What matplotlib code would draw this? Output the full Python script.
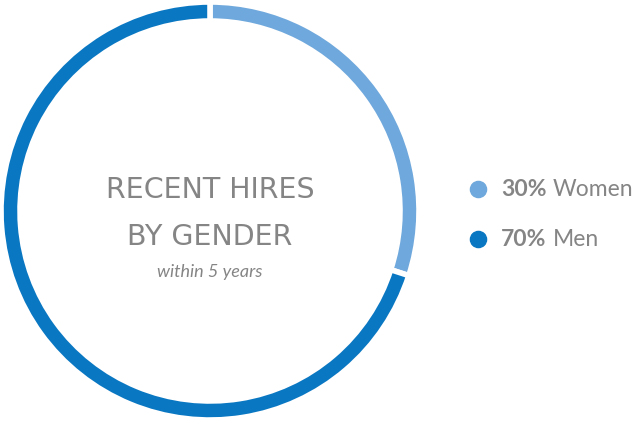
import matplotlib.pyplot as plt

# data
labels = ['Women', 'Men']
shares = [30, 70]
colors = ['#6fa8dc', '#0a77c2']
pct_labels = ['30%', '70%']

W, H = 643, 431
fig = plt.figure(figsize=(W / 100, H / 100), dpi=100)
ax = fig.add_axes([0, 0, 1, 1])

cx, cy = 210, H - 212
ax.pie(shares, colors=colors, startangle=90, counterclock=False,
       center=(cx, cy), radius=209, frame=True,
       wedgeprops=dict(width=19, edgecolor='white', linewidth=4))
ax.set_xlim(0, W)
ax.set_ylim(0, H)
ax.set_aspect('equal')
ax.axis('off')

grey = '#858585'
ax.text(cx, H - 190, 'RECENT HIRES', ha='center', va='center',
        fontsize=20.5, color=grey, family='DejaVu Sans')
ax.text(cx, H - 237, 'BY GENDER', ha='center', va='center',
        fontsize=20.5, color=grey, family='DejaVu Sans')
ax.text(cx, H - 272, 'within 5 years', ha='center', va='center',
        fontsize=13, color=grey, family='Lato', style='italic')

for i, (lab, pct, col) in enumerate(zip(labels, pct_labels, colors)):
    y = H - (190 + 50 * i)
    ax.scatter([478], [y], s=135, color=col, zorder=3)
    ax.text(501, y, pct, ha='left', va='center', fontsize=16.5,
            color=grey, family='Lato', fontweight='bold')
    ax.text(553, y, lab, ha='left', va='center', fontsize=16.5,
            color=grey, family='Lato')

fig.savefig('out.png', dpi=100, facecolor='white')
